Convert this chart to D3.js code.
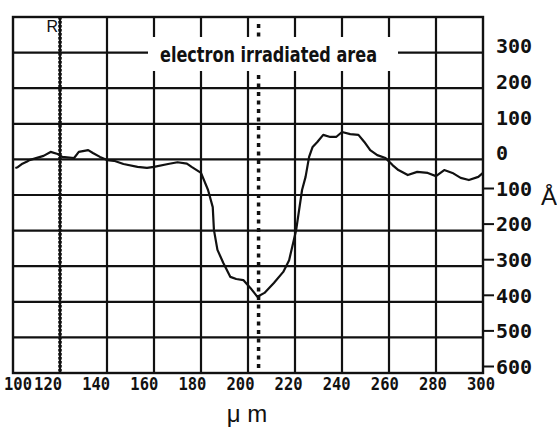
<!DOCTYPE html>
<meta charset="utf-8">
<script src="https://d3js.org/d3.v7.min.js"></script>
<style>
  body { margin: 0; background: #fff; }
  .ticklabel { font-family: "DejaVu Sans Mono", monospace; font-weight: bold; fill: #111; }
  .unit { font-family: "Liberation Sans", Arial, sans-serif; fill: #111; }
</style>
<div id="chart"></div>
<script>
// x ticks (um) and y ticks (angstrom)
var xTicks = [100, 120, 140, 160, 180, 200, 220, 240, 260, 280, 300];
var yTicks = [300, 200, 100, 0, -100, -200, -300, -400, -500, -600];

// surface profile
var profileX = [101, 102, 104, 106, 107, 113, 116, 119, 121, 126, 128, 132, 134, 137, 140, 143, 147, 153, 157, 160, 166, 170, 174, 176,
  180, 183, 185, 185.5, 187, 189.5, 192.5, 195, 198, 201, 204, 207, 211, 215, 217.5, 220.5, 223, 224.5, 226, 227.5, 229.5,
  232, 235, 237.5, 240, 243.5, 247, 249.5, 252, 255, 258.5, 261.5, 264, 268, 272, 276.5, 280, 283.5, 287, 290.5, 294, 298, 300];
var profileY = [-24, -22, -12, -6, -2, 10, 21, 15, 7, 4, 21, 26, 18, 7, -2, -4, -13, -21, -24, -21, -13, -8, -12, -21,
  -38, -86, -134, -198, -254, -291, -330, -336, -339, -361, -386, -375, -347, -316, -283, -198, -86, -49, 7, 35, 49,
  69, 63, 63, 77, 71, 69, 49, 26, 12, 4, -16, -30, -44, -35, -38, -47, -30, -38, -52, -58, -49, -38];

var refMarker = 120;      // "R"
var spotCenter = 204.5;   // center of irradiated spot
var annotation = "electron irradiated area";

var width = 557, height = 427;

var svg = d3.select("#chart").append("svg")
  .attr("width", width)
  .attr("height", height);

var x = d3.scaleLinear().domain([100, 300]).range([13, 483]);
var y = d3.scaleLinear().domain([-600, 400]).range([373, 17]);
// plotter wrote the x labels on a slightly different pitch than the grid
var xLab = d3.scaleLinear().domain([100, 300]).range([0, 481]);

// grid
svg.append("g").selectAll("line")
  .data(xTicks.slice(1, -1))
  .join("line")
    .attr("x1", function(d) { return x(d); })
    .attr("x2", function(d) { return x(d); })
    .attr("y1", y(400))
    .attr("y2", y(-600))
    .attr("stroke", "#111")
    .attr("stroke-width", 2.2);

svg.append("g").selectAll("line")
  .data(yTicks.slice(0, -1))
  .join("line")
    .attr("x1", x(100))
    .attr("x2", x(300))
    .attr("y1", function(d) { return y(d); })
    .attr("y2", function(d) { return y(d); })
    .attr("stroke", "#111")
    .attr("stroke-width", 2.2);

svg.append("rect")
  .attr("x", x(100))
  .attr("y", y(400))
  .attr("width", x(300) - x(100))
  .attr("height", y(-600) - y(400))
  .attr("fill", "none")
  .attr("stroke", "#111")
  .attr("stroke-width", 2.4);

// dotted markers
svg.append("line")
  .attr("x1", x(refMarker)).attr("x2", x(refMarker))
  .attr("y1", y(400)).attr("y2", y(-600))
  .attr("stroke", "#111")
  .attr("stroke-width", 3.5)
  .attr("stroke-dasharray", "2.5,1.5");

svg.append("line")
  .attr("x1", x(spotCenter)).attr("x2", x(spotCenter))
  .attr("y1", y(380)).attr("y2", y(-600))
  .attr("stroke", "#111")
  .attr("stroke-width", 3.5)
  .attr("stroke-dasharray", "4,4.5");

// annotation box (blanks the grid behind it)
svg.append("rect")
  .attr("x", 148).attr("y", 37)
  .attr("width", 250).attr("height", 34)
  .attr("fill", "#fff");

svg.append("text")
  .attr("x", 160)
  .attr("y", 62)
  .attr("textLength", 217)
  .attr("lengthAdjust", "spacingAndGlyphs")
  .style("font-family", "'DejaVu Sans', sans-serif")
  .style("font-weight", "bold")
  .style("font-size", "21px")
  .attr("fill", "#111")
  .text(annotation);

svg.append("text")
  .attr("x", x(refMarker) - 2)
  .attr("y", 32)
  .attr("text-anchor", "end")
  .attr("class", "unit")
  .style("font-size", "16px")
  .text("R");

// profile trace
var line = d3.line()
  .x(function(d, i) { return x(profileX[i]); })
  .y(function(d) { return y(d); });

svg.append("path")
  .datum(profileY)
  .attr("d", line)
  .attr("fill", "none")
  .attr("stroke", "#111")
  .attr("stroke-width", 2.2)
  .attr("stroke-linejoin", "round");

// x tick labels
svg.append("g").selectAll("text")
  .data(xTicks)
  .join("text")
    .attr("class", "ticklabel")
    .attr("x", function(d) { return Math.max(xLab(d), 18); })
    .attr("y", 390)
    .attr("text-anchor", "middle")
    .attr("textLength", 28)
    .attr("lengthAdjust", "spacingAndGlyphs")
    .style("font-size", "17px")
    .text(function(d) { return d; });

// y tick labels on the right, negatives get a dash off the frame
var yl = svg.append("g").selectAll("g")
  .data(yTicks)
  .join("g")
    .attr("transform", function(d) { return "translate(0," + (y(d) - 6.5) + ")"; });

yl.append("text")
  .attr("class", "ticklabel")
  .attr("x", 496)
  .attr("dy", "0.36em")
  .style("font-size", "20px")
  .text(function(d) { return Math.abs(d); });

yl.filter(function(d) { return d < 0; })
  .append("line")
  .attr("x1", x(300)).attr("x2", 494)
  .attr("stroke", "#111")
  .attr("stroke-width", 2);

// units
svg.append("text")
  .attr("class", "unit")
  .attr("x", 549)
  .attr("y", 205)
  .attr("text-anchor", "middle")
  .style("font-size", "24px")
  .text("Å");

svg.append("text")
  .attr("class", "unit")
  .attr("x", 247)
  .attr("y", 422)
  .attr("text-anchor", "middle")
  .style("font-size", "24px")
  .text("μ m");
</script>
